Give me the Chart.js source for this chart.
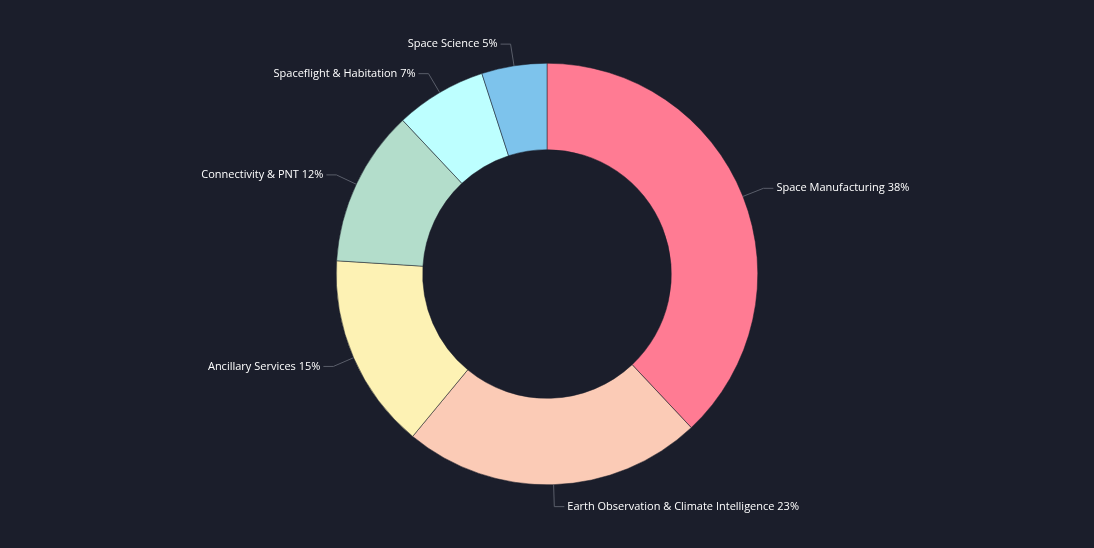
<!DOCTYPE html>
<html><head><meta charset="utf-8">
<script src="https://cdn.jsdelivr.net/npm/chart.js@4"></script>
<style>html,body{margin:0;background:#1b1e2b;}#w{width:1094px;height:548px;}</style>
</head><body><div id="w"><canvas id="c"></canvas></div>
<script>
const categories = ["Space Manufacturing","Earth Observation & Climate Intelligence","Ancillary Services","Connectivity & PNT","Spaceflight & Habitation","Space Science"];
const values = [38,23,15,12,7,5];
const colors = ["#ff7b93","#fbcbb6","#fdf2b4","#b3ddcb","#bdffff","#7dc3ec"];

const labelPlugin = {
  id:'labels',
  afterDatasetsDraw(chart){
    const ctx = chart.ctx;
    const meta = chart.getDatasetMeta(0);
    ctx.save();
    ctx.font = '11px "Open Sans", sans-serif';
    ctx.textBaseline='middle';
    meta.data.forEach((arc,i)=>{
      const mid=(arc.startAngle+arc.endAngle)/2;
      const r=arc.outerRadius;
      const x0=arc.x+Math.cos(mid)*r, y0=arc.y+Math.sin(mid)*r;
      const x1=arc.x+Math.cos(mid)*(r+22), y1=arc.y+Math.sin(mid)*(r+22);
      const right=Math.cos(mid)>=-0.01;
      const x2=x1+(right?10:-10);
      ctx.strokeStyle='#5a5e6a';ctx.lineWidth=1;
      ctx.beginPath();ctx.moveTo(x0,y0);ctx.lineTo(x1,y1);ctx.lineTo(x2,y1);ctx.stroke();
      ctx.fillStyle='#ffffff';
      ctx.textAlign=right?'left':'right';
      ctx.fillText(categories[i]+' '+values[i]+'%', x2+(right?3:-3), y1);
    });
    ctx.restore();
  }
};

new Chart(document.getElementById('c'),{
  type:'doughnut',
  data:{labels:categories,datasets:[{data:values,backgroundColor:colors,borderColor:'#1b1e2b',borderWidth:0.5}]},
  options:{responsive:true,maintainAspectRatio:false,animation:false,cutout:'59%',
    layout:{padding:{top:63,bottom:63}},
    plugins:{legend:{display:false},tooltip:{enabled:false}}},
  plugins:[labelPlugin]
});
</script></body></html>
